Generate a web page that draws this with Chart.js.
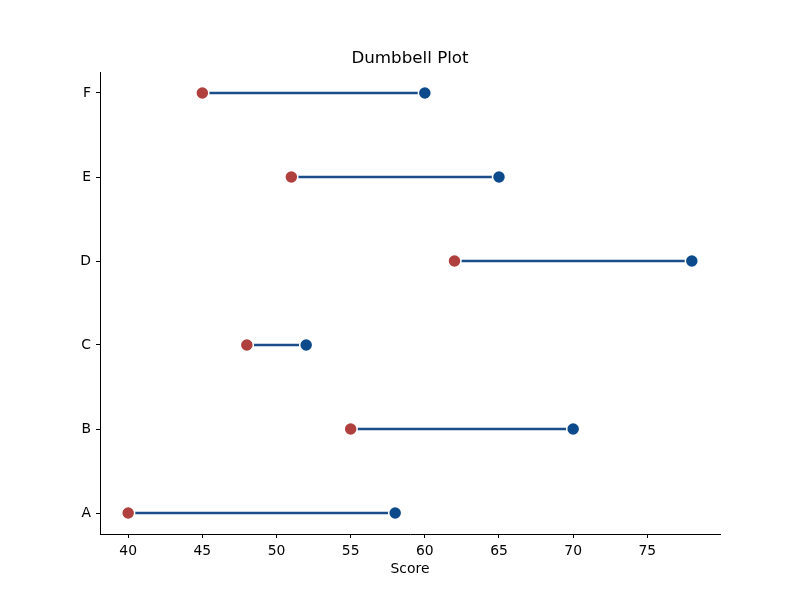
<!DOCTYPE html>
<html>
<head>
<meta charset="utf-8">
<script src="https://cdn.jsdelivr.net/npm/chart.js@4"></script>
<style>html,body{margin:0;padding:0;background:#fff}canvas{display:block}</style>
</head>
<body>
<canvas id="c" width="800" height="600"></canvas>
<script>
const categories = ['A', 'B', 'C', 'D', 'E', 'F'];
const startValues = [40, 55, 48, 62, 51, 45];
const endValues = [58, 70, 52, 78, 65, 60];
const xTicks = [40, 45, 50, 55, 60, 65, 70, 75];
const titleText = 'Dumbbell Plot';
const xLabel = 'Score';

const FONT = 'DejaVu Sans';
const lineColor = '#1b4d89';
const startColor = '#b0403d';
const endColor = '#0d4a8b';

const datasets = [];
categories.forEach((c, i) => {
  datasets.push({
    type: 'line',
    data: [{x: startValues[i], y: i}, {x: endValues[i], y: i}],
    borderColor: lineColor,
    borderWidth: 2.5,
    pointRadius: 0,
    fill: false,
    order: 2
  });
});
datasets.push({
  type: 'scatter',
  data: categories.map((c, i) => ({x: startValues[i], y: i})),
  backgroundColor: startColor,
  borderColor: '#ffffff',
  borderWidth: 1.5,
  pointRadius: 6.5,
  order: 1
});
datasets.push({
  type: 'scatter',
  data: categories.map((c, i) => ({x: endValues[i], y: i})),
  backgroundColor: endColor,
  borderColor: '#ffffff',
  borderWidth: 1.5,
  pointRadius: 6.5,
  order: 1
});

const xMin = Math.min(...startValues), xMax = Math.max(...endValues);
const xPad = (xMax - xMin) * 0.05;
const yPad = (categories.length - 1) * 0.05;

const titlePlugin = {
  id: 'mplTitle',
  afterDraw(chart) {
    const ctx = chart.ctx, a = chart.chartArea;
    ctx.save();
    ctx.font = '16.7px "' + FONT + '"';
    ctx.fillStyle = '#000';
    ctx.textAlign = 'center';
    ctx.textBaseline = 'middle';
    ctx.fillText(titleText, (a.left + a.right) / 2, a.top - 13);
    ctx.restore();
  }
};

new Chart(document.getElementById('c'), {
  type: 'scatter',
  data: {datasets},
  plugins: [titlePlugin],
  options: {
    responsive: false,
    animation: false,
    layout: {padding: {top: 72, right: 80, left: 0, bottom: 0}},
    plugins: {legend: {display: false}, tooltip: {enabled: false}, title: {display: false}},
    scales: {
      x: {
        type: 'linear',
        min: xMin - xPad,
        max: xMax + xPad,
        afterBuildTicks: s => { s.ticks = xTicks.map(v => ({value: v})); },
        afterFit: s => { s.height = 66; },
        grid: {drawOnChartArea: false, drawTicks: true, tickLength: 4, color: '#000', tickWidth: 1},
        border: {display: true, color: '#000', width: 1},
        ticks: {color: '#000', font: {family: FONT, size: 13.9}, padding: 5, maxRotation: 0},
        title: {display: true, text: xLabel, color: '#000', font: {family: FONT, size: 13.9}, padding: {top: 2, bottom: 22}}
      },
      y: {
        type: 'linear',
        min: -yPad,
        max: categories.length - 1 + yPad,
        afterBuildTicks: s => { s.ticks = categories.map((c, i) => ({value: i})); },
        afterFit: s => { s.width = 100; },
        grid: {drawOnChartArea: false, drawTicks: true, tickLength: 4, color: '#000', tickWidth: 1},
        border: {display: true, color: '#000', width: 1},
        ticks: {color: '#000', font: {family: FONT, size: 13.9}, padding: 5, callback: v => categories[v]}
      }
    }
  }
});
</script>
</body>
</html>
